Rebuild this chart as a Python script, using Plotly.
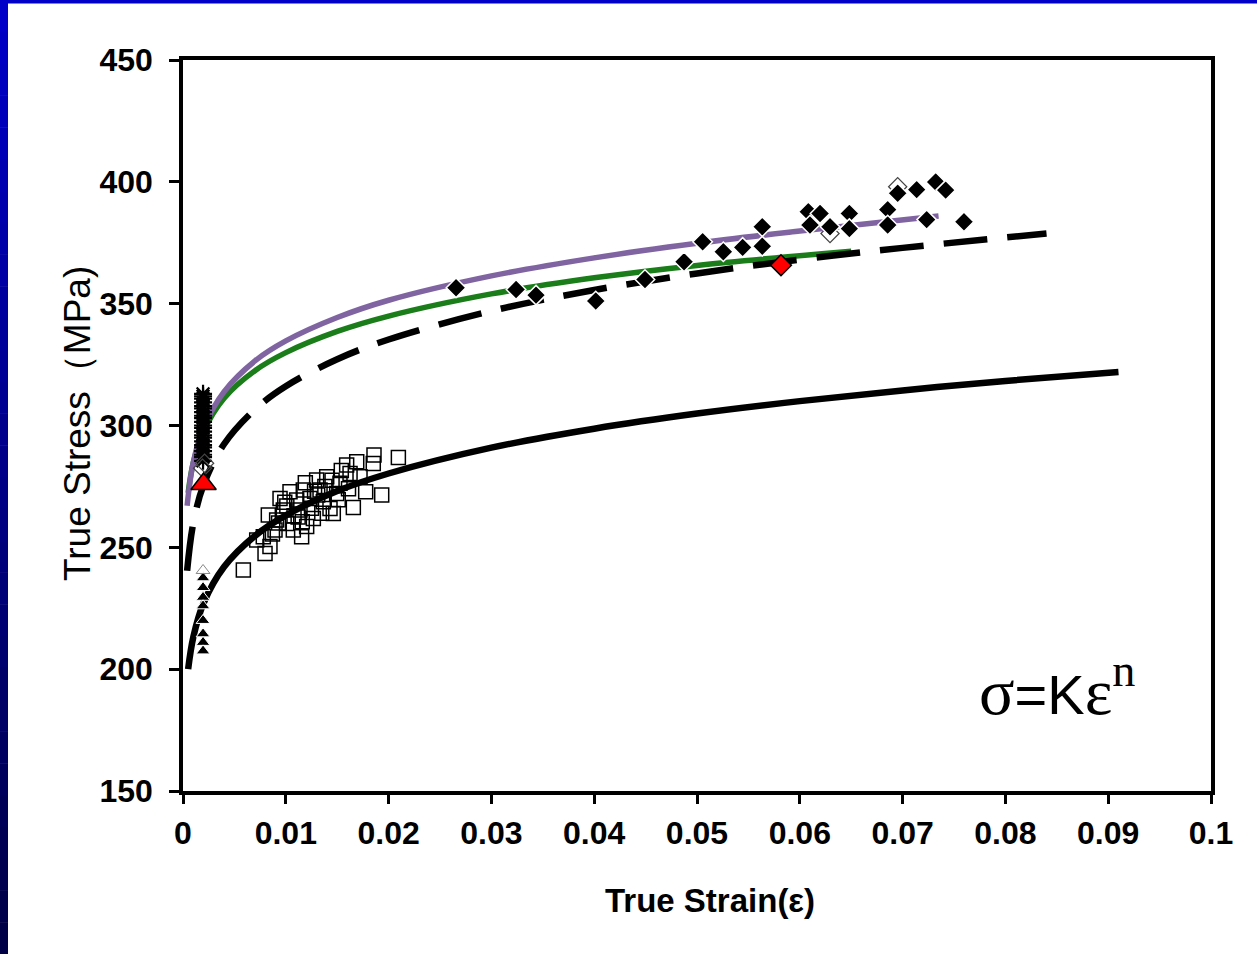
import plotly.graph_objects as go

# ---------------- data ----------------
# fitted curves sigma = K * eps^n
solid_eps = [0.0005, 0.001, 0.002, 0.004, 0.007, 0.01, 0.015, 0.02, 0.03, 0.04, 0.05, 0.06, 0.07, 0.08, 0.091]
solid_sig = [200.0, 213.1, 227.1, 242.0, 254.7, 263.1, 273.1, 280.3, 290.9, 298.7, 304.9, 310.0, 314.4, 318.3, 322.0]

dash_eps = [0.0004, 0.001, 0.002, 0.004, 0.007, 0.01, 0.015, 0.02, 0.03, 0.04, 0.05, 0.06, 0.07, 0.084]
dash_sig = [240.4, 259.9, 275.6, 292.4, 306.6, 316.1, 327.2, 335.3, 347.0, 355.6, 362.4, 368.1, 372.9, 378.8]

purple_eps = [0.0004, 0.001, 0.002, 0.004, 0.007, 0.01, 0.015, 0.02, 0.03, 0.04, 0.05, 0.06, 0.0735]
purple_sig = [267.1, 284.9, 299.0, 313.9, 326.5, 334.7, 344.3, 351.4, 361.4, 368.8, 374.8, 379.8, 386.0]

green_eps = [0.0005, 0.001, 0.002, 0.004, 0.007, 0.01, 0.015, 0.02, 0.03, 0.04, 0.05, 0.065]
green_sig = [272.4, 284.7, 297.6, 311.2, 322.5, 329.9, 338.6, 344.9, 354.0, 360.6, 365.7, 371.5]

# asterisk column at eps ~ 0.002
ast_eps = [0.00195] * 22
ast_sig = [313, 312, 311, 309.5, 308, 307, 305.5, 304, 303, 301.5, 300, 299, 297.5,
           296, 295, 293.5, 292, 291, 289.5, 288, 287, 285.5]

# small triangles column at eps ~ 0.002
tri_eps = [0.00195] * 8
tri_sig = [237.5, 233.5, 229.5, 226, 220, 214.5, 211, 207.5]
tri_open_eps = [0.00195]
tri_open_sig = [240.5]

# open squares
sq_eps = [0.00587, 0.02095, 0.01933, 0.01657, 0.01858, 0.01777, 0.01462, 0.01154, 0.00944,
          0.0083, 0.00798, 0.00846, 0.00717, 0.01041, 0.013, 0.01398, 0.01592, 0.0169,
          0.01851, 0.0143, 0.01235, 0.01138, 0.01009, 0.00895, 0.00781, 0.01333, 0.01527,
          0.01625, 0.01722, 0.0117, 0.01106, 0.00976, 0.00911, 0.01268, 0.01365, 0.01495,
          0.01203, 0.01073, 0.0112, 0.0125, 0.0138, 0.0151, 0.0101, 0.0093, 0.0161, 0.0119,
          0.0131, 0.0087, 0.0145, 0.0108, 0.0099, 0.0128, 0.0154, 0.0116, 0.0135]
sq_sig = [240.7, 286.9, 271.5, 266.3, 287.9, 272.8, 263.9, 254.3, 270.0,
          263.3, 247.5, 250.3, 253.0, 272.8, 277.6, 279.0, 283.8, 285.1,
          284.4, 265.9, 270.0, 265.3, 259.8, 257.1, 254.3, 273.5, 276.3,
          280.3, 279.0, 273.5, 269.4, 265.3, 261.2, 261.8, 268.7, 272.1,
          258.5, 257.1, 262.5, 266.0, 275.0, 269.5, 267.0, 260.0, 274.0, 276.5,
          271.5, 255.5, 277.5, 263.0, 268.5, 273.0, 281.5, 260.5, 264.0]

# black diamonds
dia_eps = [0.02656, 0.0324, 0.03434, 0.04015, 0.04494, 0.04874, 0.05055, 0.05256, 0.05444,
           0.05635, 0.05635, 0.06083, 0.06197, 0.06099, 0.06294, 0.06482, 0.06482, 0.06855,
           0.06855, 0.06952, 0.07137, 0.07322, 0.07419, 0.07234, 0.07597]
dia_sig = [356.5, 355.8, 353.5, 351.1, 359.9, 367.2, 375.4, 371.3, 373.1,
           381.6, 373.6, 387.7, 387.0, 382.3, 381.6, 387.0, 380.8, 388.6,
           382.3, 395.3, 396.8, 399.9, 396.6, 384.5, 383.6]

# open diamonds
odia_eps = [0.06294, 0.06952, 0.0019, 0.0021]
odia_sig = [378.8, 398.0, 282.5, 284.5]

# highlighted points
red_tri_eps = [0.002]
red_tri_sig = [276]
red_dia_eps = [0.05817]
red_dia_sig = [365.8]

x_ticks = [0, 0.01, 0.02, 0.03, 0.04, 0.05, 0.06, 0.07, 0.08, 0.09, 0.1]
x_tick_labels = ["0", "0.01", "0.02", "0.03", "0.04", "0.05", "0.06", "0.07", "0.08", "0.09", "0.1"]
y_ticks = [150, 200, 250, 300, 350, 400, 450]

# ---------------- figure ----------------
W, H = 1257, 954
L, R, T, B = 183, 46, 60, 163
PW, PH = W - L - R, H - T - B


def px_x(px):
    return (px - L) / PW


def px_y(py):
    return (H - B - py) / PH


fig = go.Figure()

line_common = dict(mode="lines", line_shape="spline", hoverinfo="skip", showlegend=False)
fig.add_trace(go.Scatter(x=green_eps, y=green_sig, line=dict(color="#1a7d1a", width=5.5), **line_common))
fig.add_trace(go.Scatter(x=purple_eps, y=purple_sig, line=dict(color="#8064a2", width=5.5), **line_common))
fig.add_trace(go.Scatter(x=dash_eps, y=dash_sig, line=dict(color="black", width=6.5, dash="44px,20px"), **line_common))
fig.add_trace(go.Scatter(x=solid_eps, y=solid_sig, line=dict(color="black", width=6.5), **line_common))

fig.add_trace(go.Scatter(x=sq_eps, y=sq_sig, mode="markers", showlegend=False,
                         marker=dict(symbol="square-open", size=14, color="black", line=dict(width=1.5, color="black"))))
fig.add_trace(go.Scatter(x=tri_eps, y=tri_sig, mode="markers", showlegend=False,
                         marker=dict(symbol="triangle-up", size=12, color="black", line=dict(width=1, color="white"))))
fig.add_trace(go.Scatter(x=tri_open_eps, y=tri_open_sig, mode="markers", showlegend=False,
                         marker=dict(symbol="triangle-up-open", size=12, color="#888888", line=dict(width=1))))
fig.add_trace(go.Scatter(x=ast_eps, y=ast_sig, mode="markers", showlegend=False,
                         marker=dict(symbol="asterisk-open", size=15, color="black", line=dict(width=2.2, color="black"))))
fig.add_trace(go.Scatter(x=odia_eps, y=odia_sig, mode="markers", showlegend=False,
                         marker=dict(symbol="diamond-open", size=14, color="#444444", line=dict(width=1.2))))
fig.add_trace(go.Scatter(x=dia_eps, y=dia_sig, mode="markers", showlegend=False,
                         marker=dict(symbol="diamond", size=15, color="black", line=dict(width=1.5, color="white"))))
fig.add_trace(go.Scatter(x=red_tri_eps, y=red_tri_sig, mode="markers", showlegend=False,
                         marker=dict(symbol="triangle-up", size=22, color="#ff0000", line=dict(width=1.5, color="black"))))
fig.add_trace(go.Scatter(x=red_dia_eps, y=red_dia_sig, mode="markers", showlegend=False,
                         marker=dict(symbol="diamond", size=16, color="#ff0000", line=dict(width=1.5, color="black"))))

tick_font = dict(family="Liberation Sans, Arial, sans-serif", size=32, color="black", weight="bold")

fig.update_xaxes(range=[0, 0.1], tickvals=x_ticks, ticktext=x_tick_labels, ticks="outside",
                 ticklen=9, tickwidth=3, tickcolor="black", showline=True, linewidth=3.5,
                 linecolor="black", mirror=True, showgrid=False, zeroline=False,
                 tickfont=tick_font, ticklabelstandoff=2)
fig.update_yaxes(range=[150, 450], tickvals=y_ticks, ticks="outside",
                 ticklen=10, tickwidth=3, tickcolor="black", showline=True, linewidth=3.5,
                 linecolor="black", mirror=True, showgrid=False, zeroline=False,
                 tickfont=tick_font, ticklabelstandoff=10)

# decorative blue frame (top bar and left gradient bar)
shapes = [dict(type="rect", xref="paper", yref="paper", x0=px_x(0), x1=px_x(W), y0=px_y(0), y1=px_y(3.5),
               line=dict(width=0), fillcolor="#0000c8", layer="above")]
nb = 30
for i in range(nb):
    f = i / (nb - 1)
    col = "rgb(0,0,%d)" % (200 + (70 - 200) * f)
    shapes.append(dict(type="rect", xref="paper", yref="paper", x0=px_x(0), x1=px_x(8),
                       y0=px_y(H * i / nb), y1=px_y(H * (i + 1) / nb + 0.5),
                       line=dict(width=0), fillcolor=col, layer="above"))

serif = "Liberation Serif, Times New Roman, serif"
annotations = [
    dict(xref="paper", yref="paper", x=px_x(77), y=px_y(424), xanchor="center", yanchor="middle",
         text="True Stress（MPa)", textangle=-90, showarrow=False,
         font=dict(family="Liberation Sans, Arial, sans-serif", size=37, color="black")),
    dict(xref="paper", yref="paper", x=px_x(710), y=px_y(900), xanchor="center", yanchor="middle",
         text="True Strain(ε)", showarrow=False,
         font=dict(family="Liberation Sans, Arial, sans-serif", size=33, color="black", weight="bold")),
    dict(xref="paper", yref="paper", x=px_x(1057), y=px_y(686), xanchor="center", yanchor="middle",
         text="<span style='font-family:%s;font-size:66px'>σ</span>=K"
              "<span style='font-family:%s;font-size:66px'>ε<sup>n</sup></span>" % (serif, serif),
         showarrow=False, font=dict(family="Liberation Sans, Arial, sans-serif", size=56, color="black")),
]

fig.update_layout(width=W, height=H, margin=dict(l=L, r=R, t=T, b=B, pad=0),
                  paper_bgcolor="white", plot_bgcolor="white", shapes=shapes,
                  annotations=annotations, showlegend=False)

fig.write_html("out.html", config={"displayModeBar": False},
               post_script="document.body.style.margin='0px';document.body.style.padding='0px';")
